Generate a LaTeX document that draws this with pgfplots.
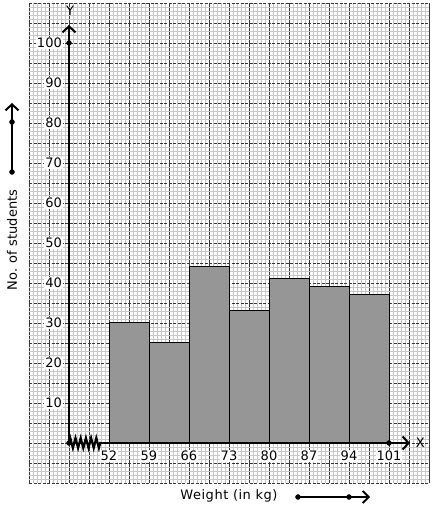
\documentclass[border=0pt]{standalone}
\usepackage{fontspec}
\setmainfont{DejaVu Sans}
\usepackage{pgfplots}
\pgfplotsset{compat=1.18}
\usetikzlibrary{arrows.meta,decorations.pathmorphing}
\definecolor{barfill}{RGB}{150,150,150}
\definecolor{minorgrid}{RGB}{200,200,200}
\definecolor{majorgrid}{RGB}{55,55,55}
\begin{document}
\fontsize{13}{15}\selectfont
\begin{tikzpicture}
\begin{axis}[
  scale only axis, width=400pt, height=480pt,
  xmin=38, xmax=108, ymin=-10, ymax=110,
  axis line style={draw=none},
  xtick={38,41.5,45,48.5,52,55.5,59,62.5,66,69.5,73,76.5,80,83.5,87,90.5,94,97.5,101,104.5,108},
  ytick={-10,-5,...,110},
  xticklabels={}, yticklabels={},
  minor x tick num=4, minor y tick num=4,
  major tick length=0pt, minor tick length=0pt,
  grid=both,
  minor grid style={draw=minorgrid, line width=0.8pt},
  major x grid style={draw=majorgrid, line width=0.9pt},
  major y grid style={draw=majorgrid, line width=0.9pt, dash pattern=on 3pt off 1.5pt},
  extra x ticks={52,59,66,73,80,87,94,101},
  extra x tick labels={52,59,66,73,80,87,94,101},
  extra y ticks={10,20,30,40,50,60,70,80,90,100},
  extra y tick labels={10,20,30,40,50,60,70,80,90,100},
  extra tick style={grid=none, major tick length=0pt},
  extra x tick style={xticklabel style={anchor=center, yshift=27pt, fill=white, inner sep=1pt}},
  extra y tick style={yticklabel style={anchor=east, xshift=34pt, fill=white, inner sep=1pt}},
  tick label style={font=\fontsize{13}{15}\selectfont},
  /pgf/number format/assume math mode=true,
  clip=false,
]
\addplot[ybar interval, fill=barfill, draw=black, line width=1pt]
  coordinates {(52,30) (59,25) (66,44) (73,33) (80,41) (87,39) (94,37) (101,37)};
% axes
\draw[line width=2.3pt, -{Straight Barb[length=6pt,width=13pt,line width=2pt]}]
  (axis cs:45,0) -- (axis cs:45,104.5);
\draw[line width=2.2pt, decorate, decoration={zigzag, segment length=5.2pt, amplitude=5pt}]
  (axis cs:45,0) -- (axis cs:50.6,0);
\draw[line width=2.3pt, -{Straight Barb[length=6pt,width=13pt,line width=2pt]}]
  (axis cs:50.5,0) -- (axis cs:104.675,0);
\addplot[only marks, mark=*, mark size=2.5pt, black] coordinates {(45,0) (45,100) (101,0)};
\node at (axis cs:45.2,108.0) {Y};
\node at (axis cs:106.5,0) {X};
% left arrow and label
\draw[line width=2.3pt, -{Straight Barb[length=6pt,width=13pt,line width=2pt]}]
  (axis cs:35.025,67.75) -- (axis cs:35.025,85);
\addplot[only marks, mark=*, mark size=2.5pt, black] coordinates {(35.025,67.75) (35.025,80.25)};
\node[rotate=90] at (axis cs:35.025,50.75) {No. of students};
% bottom arrow and label
\node at (axis cs:73,-13.2) {\addfontfeature{LetterSpace=4}Weight (in kg)};
\draw[line width=2pt, -{Straight Barb[length=6pt,width=12pt,line width=1.8pt]}]
  (axis cs:85.075,-13.5) -- (axis cs:97.675,-13.5);
\addplot[only marks, mark=*, mark size=2.5pt, black] coordinates {(85.075,-13.5) (94,-13.5)};
\coordinate (bl) at (axis cs:32.925,-16.75);
\coordinate (tr) at (axis cs:108.875,110.75);
\end{axis}
\pgfresetboundingbox
\path[use as bounding box] (bl) rectangle (tr);
\end{tikzpicture}
\end{document}
